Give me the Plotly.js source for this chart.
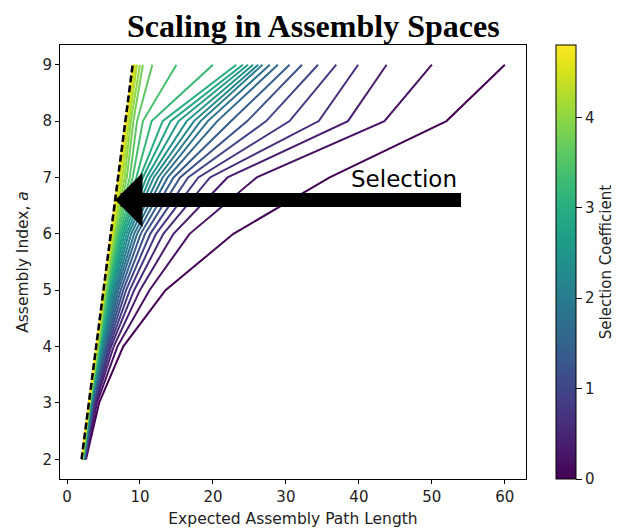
<!DOCTYPE html>
<html>
<head>
<meta charset="utf-8">
<script src="https://cdn.plot.ly/plotly-3.0.1.min.js"></script>
<style>html,body{margin:0;padding:0;background:#fff;}#chart{width:618px;height:529px;}</style>
</head>
<body>
<div id="chart"></div>
<script>
// ---- data ----
const assemblyIndex = [2, 3, 4, 5, 6, 7, 8, 9];
const selectionCoeff = [0, 0.2, 0.4, 0.6, 0.8, 1.0, 1.2, 1.4, 1.6, 1.8, 2.0, 2.2, 2.4,
                        2.6, 2.8, 3.0, 3.2, 3.4, 3.6, 3.8, 4.0, 4.2, 4.4, 4.6, 4.8];
// expected assembly path length for each selection coefficient (rows) at each assembly index
const pathLength = [
  [2.6, 4.4, 7.7, 13.5, 22.8, 36.0, 52.0, 60.0],
  [2.55, 4.1, 6.9, 11.3, 16.8, 26.0, 43.5, 50.0],
  [2.5, 3.9, 6.4, 10.0, 14.6, 22.0, 38.5, 43.8],
  [2.47, 3.78, 6.05, 9.2, 13.2, 19.6, 34.5, 39.9],
  [2.44, 3.68, 5.8, 8.6, 12.2, 18.0, 30.5, 36.9],
  [2.41, 3.6, 5.6, 8.1, 11.4, 16.6, 27.3, 34.4],
  [2.38, 3.53, 5.42, 7.7, 10.7, 15.5, 24.7, 32.2],
  [2.35, 3.47, 5.27, 7.35, 10.1, 14.6, 22.5, 30.5],
  [2.33, 3.42, 5.14, 7.05, 9.6, 13.8, 20.6, 28.9],
  [2.31, 3.37, 5.02, 6.8, 9.2, 13.1, 19.3, 27.8],
  [2.29, 3.33, 4.92, 6.6, 8.8, 12.5, 18.3, 26.8],
  [2.27, 3.29, 4.82, 6.4, 8.45, 11.9, 17.4, 26.2],
  [2.25, 3.25, 4.73, 6.2, 8.15, 11.4, 16.4, 25.5],
  [2.23, 3.22, 4.65, 6.05, 7.85, 10.9, 15.3, 24.8],
  [2.21, 3.19, 4.57, 5.9, 7.6, 10.4, 14.2, 24.1],
  [2.19, 3.16, 4.5, 5.75, 7.35, 10.0, 13.1, 23.2],
  [2.17, 3.13, 4.43, 5.62, 7.15, 9.5, 11.6, 20.0],
  [2.15, 3.11, 4.36, 5.5, 6.95, 9.0, 10.4, 15.0],
  [2.13, 3.09, 4.3, 5.4, 6.75, 8.6, 9.6, 11.7],
  [2.11, 3.07, 4.24, 5.3, 6.6, 8.2, 9.1, 10.4],
  [2.09, 3.05, 4.18, 5.22, 6.45, 7.9, 8.75, 10.0],
  [2.07, 3.04, 4.13, 5.15, 6.32, 7.6, 8.5, 9.6],
  [2.05, 3.03, 4.08, 5.09, 6.2, 7.35, 8.3, 9.35],
  [2.03, 3.02, 4.05, 5.05, 6.1, 7.15, 8.15, 9.15],
  [2.02, 3.01, 4.02, 5.02, 6.04, 7.05, 8.05, 9.05]
];
// minimum path length (dashed line)
const minPathLength = [2, 3, 4, 5, 6, 7, 8, 9];
const xTicks = [0, 10, 20, 30, 40, 50, 60];
const yTicks = [2, 3, 4, 5, 6, 7, 8, 9];
const cbarTicks = [0, 1, 2, 3, 4];
const arrowLabel = "Selection";
const arrowFrom = {x: 54.2, y: 6.6};
const arrowTo = {x: 6.6, y: 6.6};

// ---- styling ----
const viridis = [[0,'#440154'],[0.06274509803921569,'#48186a'],[0.12549019607843137,'#472d7b'],
 [0.18823529411764706,'#424086'],[0.25098039215686274,'#3b528b'],[0.3137254901960784,'#33638d'],
 [0.3764705882352941,'#2c728e'],[0.4392156862745098,'#26828e'],[0.5019607843137255,'#21918c'],
 [0.5647058823529412,'#1fa088'],[0.6274509803921569,'#28ae80'],[0.6901960784313725,'#3fbc73'],
 [0.7529411764705882,'#5ec962'],[0.8156862745098039,'#84d44b'],[0.8784313725490196,'#addc30'],
 [0.9411764705882353,'#d8e219'],[1,'#fde725']];
function hex2rgb(h){return [parseInt(h.slice(1,3),16),parseInt(h.slice(3,5),16),parseInt(h.slice(5,7),16)];}
function viridisAt(t){
  t=Math.max(0,Math.min(1,t));
  for(let i=1;i<viridis.length;i++){
    if(t<=viridis[i][0]){
      const t0=viridis[i-1][0],t1=viridis[i][0];
      const f=(t-t0)/(t1-t0);
      const a=hex2rgb(viridis[i-1][1]),b=hex2rgb(viridis[i][1]);
      return 'rgb('+a.map((v,k)=>Math.round(v+(b[k]-v)*f)).join(',')+')';
    }
  }
  return viridis[viridis.length-1][1];
}
const sMin = 0, sMax = 4.8;
const font = 'DejaVu Sans, sans-serif';
const txt = '#222';

const traces = selectionCoeff.map((s, i) => ({
  type: 'scatter', mode: 'lines',
  x: pathLength[i], y: assemblyIndex,
  line: {color: viridisAt((s - sMin) / (sMax - sMin)), width: 2},
  showlegend: false, hoverinfo: 'skip'
}));
traces.push({
  type: 'scatter', mode: 'lines', x: minPathLength, y: assemblyIndex,
  line: {color: 'black', width: 2.6, dash: '7px,3px'}, showlegend: false
});
traces.push({
  type: 'scatter', mode: 'markers', x: [null, null], y: [null, null],
  marker: {color: [sMin, sMax], cmin: sMin, cmax: sMax, colorscale: viridis, showscale: true,
    colorbar: {
      x: 1.064, xanchor: 'left', xref: 'paper', y: 0.5, yanchor: 'middle', len: 1, lenmode: 'fraction',
      thickness: 20, xpad: 0, ypad: 0, outlinewidth: 1, outlinecolor: 'black',
      tickvals: cbarTicks, ticks: 'outside', ticklen: 6, tickcolor: 'black',
      tickfont: {family: font, size: 15, color: txt},
      title: {text: 'Selection Coefficient', side: 'right', font: {family: font, size: 15, color: txt}}
    }},
  showlegend: false, hoverinfo: 'skip'
});

const layout = {
  width: 618, height: 529,
  margin: {l: 60, r: 92, t: 45, b: 50, autoexpand: false},
  paper_bgcolor: 'white', plot_bgcolor: 'white',
  title: {text: '<b>Scaling in Assembly Spaces</b>', x: 0.507, xref: 'container', xanchor: 'center',
          y: 0.951, yref: 'container', yanchor: 'middle',
          font: {family: 'Liberation Serif, Times New Roman, serif', size: 32, color: 'black'}},
  xaxis: {range: [-0.96, 62.9], tickvals: xTicks, ticks: 'outside', ticklen: 4, tickcolor: 'black',
          showline: true, mirror: true, linecolor: 'black', linewidth: 1, showgrid: false, zeroline: false,
          tickfont: {family: font, size: 15, color: txt},
          title: {text: 'Expected Assembly Path Length', font: {family: font, size: 15.5, color: txt}, standoff: 8}},
  yaxis: {range: [1.65, 9.35], tickvals: yTicks, ticks: 'outside', ticklen: 4, tickcolor: 'black',
          showline: true, mirror: true, linecolor: 'black', linewidth: 1, showgrid: false, zeroline: false,
          tickfont: {family: font, size: 15, color: txt},
          title: {text: 'Assembly Index, <i>a</i>', font: {family: font, size: 15.5, color: txt}, standoff: 10}},
  annotations: [
    {x: arrowTo.x, y: arrowTo.y, xref: 'x', yref: 'y', ax: arrowFrom.x, ay: arrowFrom.y, axref: 'x', ayref: 'y',
     text: '', showarrow: true, arrowhead: 1, arrowsize: 0.65, arrowwidth: 14, arrowcolor: 'black'},
    {x: 38.6, y: 6.98, xref: 'x', yref: 'y', text: arrowLabel, showarrow: false, xanchor: 'left', yanchor: 'middle',
     font: {family: font, size: 23, color: 'black'}}
  ]
};
Plotly.newPlot('chart', traces, layout, {displayModeBar: false, staticPlot: true});
</script>
</body>
</html>
